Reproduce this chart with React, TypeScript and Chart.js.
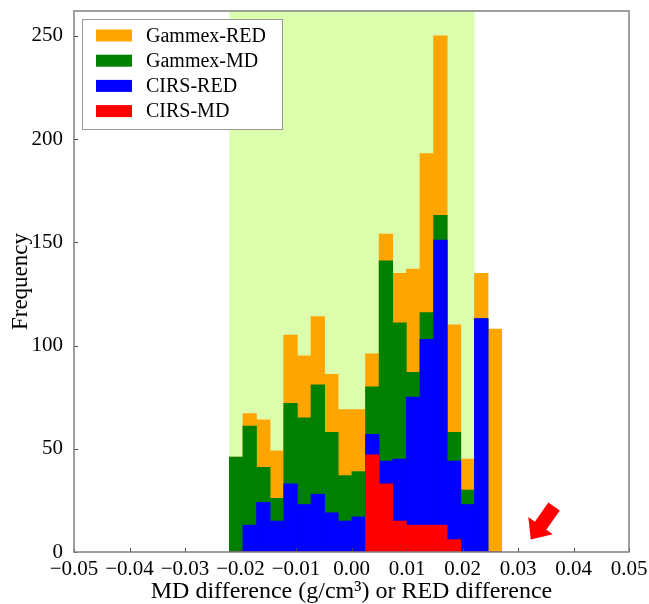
import React, { useEffect, useRef } from 'react';
import { Chart, registerables } from 'chart.js';

Chart.register(...registerables);

// Histogram bin centres (bin width ~0.00245)
const BIN_CENTERS = [
  -0.02079, -0.01834, -0.01589, -0.01343, -0.01098, -0.00852, -0.00607, -0.00362, -0.00116, 0.00129,
  0.00375, 0.0062, 0.00866, 0.01111, 0.01356, 0.01602, 0.01847, 0.02093, 0.02338, 0.02583,
];
const GAMMEX_RED = [46, 67, 64, 49, 105, 95, 114, 86, 69, 69, 96, 154, 135, 137, 193, 250, 110, 45, 135, 108];
const GAMMEX_MD = [46, 61, 41, 26, 72, 65, 81, 58, 37, 39, 80, 141, 111, 87, 116, 163, 58, 30, 113, 0];
const CIRS_RED = [0, 13, 24, 15, 33, 23, 28, 19, 15, 17, 57, 44, 45, 75, 103, 151, 44, 23, 113, 0];
const CIRS_MD = [0, 0, 0, 0, 0, 0, 0, 0, 0, 0, 47, 33, 15, 13, 13, 13, 6, 0, 0, 0];

const SERIES_LABELS = ['Gammex-RED', 'Gammex-MD', 'CIRS-RED', 'CIRS-MD'];
const SERIES_COLORS = ['#ffa500', '#008000', '#0000ff', '#ff0000'];

const X_TICKS = [-0.05, -0.04, -0.03, -0.02, -0.01, 0, 0.01, 0.02, 0.03, 0.04, 0.05];
const Y_TICKS = [0, 50, 100, 150, 200, 250];
const X_RANGE = [-0.05, 0.05];
const Y_RANGE = [0, 262];
const SHADE_RANGE = [-0.022, 0.02215];
const ARROW_TAIL = { x: 0.0365, y: 22 };
const ARROW_TIP = { x: 0.0323, y: 6 };

const FONT = 'Liberation Serif';

function fmtX(v: number) {
  const s = Math.abs(v).toFixed(2);
  return v < -1e-9 ? '\u2212' + s : s;
}

const decor = {
  id: 'decor',
  beforeDatasetsDraw(chart: any) {
    const { ctx, chartArea: a, scales } = chart;
    const x = scales.x;
    const l = x.getPixelForValue(SHADE_RANGE[0]);
    const r = x.getPixelForValue(SHADE_RANGE[1]);
    ctx.save();
    ctx.fillStyle = '#dcfdab';
    ctx.fillRect(l, a.top, r - l, a.bottom - a.top);
    ctx.restore();
  },
  afterDraw(chart: any) {
    const { ctx, chartArea: a, scales } = chart;
    const x = scales.x;
    const y = scales.y;
    ctx.save();
    // inward tick marks
    ctx.strokeStyle = '#444';
    ctx.lineWidth = 1;
    ctx.beginPath();
    X_TICKS.forEach((v) => {
      const px = Math.round(x.getPixelForValue(v)) + 0.5;
      ctx.moveTo(px, a.bottom);
      ctx.lineTo(px, a.bottom - 4);
    });
    Y_TICKS.forEach((v) => {
      const py = Math.round(y.getPixelForValue(v)) + 0.5;
      ctx.moveTo(a.left, py);
      ctx.lineTo(a.left + 4, py);
    });
    ctx.stroke();
    // frame
    ctx.strokeStyle = '#808080';
    ctx.lineWidth = 1.5;
    ctx.strokeRect(a.left, a.top, a.right - a.left, a.bottom - a.top);

    // arrow
    const tx = x.getPixelForValue(ARROW_TAIL.x), ty = y.getPixelForValue(ARROW_TAIL.y);
    const hx = x.getPixelForValue(ARROW_TIP.x), hy = y.getPixelForValue(ARROW_TIP.y);
    const dx = hx - tx, dy = hy - ty;
    const len = Math.hypot(dx, dy);
    const ux = dx / len, uy = dy / len;
    const nx = -uy, ny = ux;
    const sw = 7, hw = 15, hl = 17;
    const bx = hx - ux * hl, by = hy - uy * hl;
    ctx.fillStyle = '#ff0000';
    ctx.beginPath();
    ctx.moveTo(tx + nx * sw, ty + ny * sw);
    ctx.lineTo(bx + nx * sw, by + ny * sw);
    ctx.lineTo(bx + nx * hw, by + ny * hw);
    ctx.lineTo(hx, hy);
    ctx.lineTo(bx - nx * hw, by - ny * hw);
    ctx.lineTo(bx - nx * sw, by - ny * sw);
    ctx.lineTo(tx - nx * sw, ty - ny * sw);
    ctx.closePath();
    ctx.fill();

    // legend
    const lx = a.left + 8, ly = a.top + 8, lw = 200, lh = 110;
    ctx.fillStyle = '#ffffff';
    ctx.fillRect(lx, ly, lw, lh);
    ctx.strokeStyle = '#999999';
    ctx.lineWidth = 1;
    ctx.strokeRect(lx + 0.5, ly + 0.5, lw, lh);
    ctx.font = `20px "${FONT}"`;
    ctx.textBaseline = 'middle';
    ctx.textAlign = 'left';
    chart.data.datasets.forEach((ds: any, i: number) => {
      const cy = ly + 16.5 + i * 25.2;
      ctx.fillStyle = ds.backgroundColor;
      ctx.fillRect(lx + 14, cy - 6, 36, 12);
      ctx.fillStyle = '#000';
      ctx.fillText(ds.label, lx + 64, cy + 1);
    });
    ctx.restore();
  },
};

export default function App() {
  const ref = useRef<HTMLCanvasElement | null>(null);
  useEffect(() => {
    if (!ref.current) return;
    const seriesValues = [GAMMEX_RED, GAMMEX_MD, CIRS_RED, CIRS_MD];
    const datasets = seriesValues.map((vals, i) => ({
      label: SERIES_LABELS[i],
      data: vals.map((v, j) => ({ x: BIN_CENTERS[j], y: v })),
      backgroundColor: SERIES_COLORS[i],
      borderWidth: 0,
      barPercentage: 1,
      categoryPercentage: 1,
      grouped: false,
      order: seriesValues.length - i,
    }));
    const chart = new Chart(ref.current, {
      type: 'bar',
      data: { datasets },
      options: {
        responsive: false,
        animation: false,
        devicePixelRatio: 1,
        layout: { padding: { left: 0, top: 11, right: 20, bottom: 0 } },
        plugins: { legend: { display: false }, tooltip: { enabled: false } },
        scales: {
          x: {
            type: 'linear',
            offset: false,
            min: X_RANGE[0],
            max: X_RANGE[1],
            grid: { display: false, drawTicks: false },
            border: { display: false },
            afterBuildTicks: (s: any) => {
              s.ticks = X_TICKS.map((v) => ({ value: v }));
            },
            afterFit: (s: any) => {
              s.height = 52;
              s.paddingLeft = 0;
              s.paddingRight = 0;
            },
            ticks: {
              autoSkip: false,
              maxRotation: 0,
              minRotation: 0,
              padding: 5,
              color: '#000',
              font: { family: FONT, size: 21 },
              callback: (v: any) => fmtX(Number(v)),
            },
            title: {
              display: true,
              text: 'MD difference (g/cm\u00B3) or RED difference',
              color: '#000',
              font: { family: FONT, size: 24, lineHeight: 1.0 },
              padding: { top: 0, bottom: 0 },
            },
          },
          y: {
            type: 'linear',
            min: Y_RANGE[0],
            max: Y_RANGE[1],
            grid: { display: false, drawTicks: false },
            border: { display: false },
            afterBuildTicks: (s: any) => {
              s.ticks = Y_TICKS.map((v) => ({ value: v }));
            },
            afterFit: (s: any) => {
              s.width = 74;
              s.paddingTop = 0;
              s.paddingBottom = 0;
            },
            ticks: {
              padding: 11,
              color: '#000',
              font: { family: FONT, size: 21 },
              callback: (v: any) => String(v),
            },
            title: {
              display: true,
              text: 'Frequency',
              color: '#000',
              font: { family: FONT, size: 23 },
              padding: { top: 7, bottom: 0 },
            },
          },
        },
      },
      plugins: [decor],
    } as any);
    return () => chart.destroy();
  }, []);
  return (
    <div style={{ position: 'absolute', left: 0, top: 0, width: 649, height: 604, background: '#fff' }}>
      <canvas ref={ref} width={649} height={604} style={{ display: 'block' }} />
    </div>
  );
}
